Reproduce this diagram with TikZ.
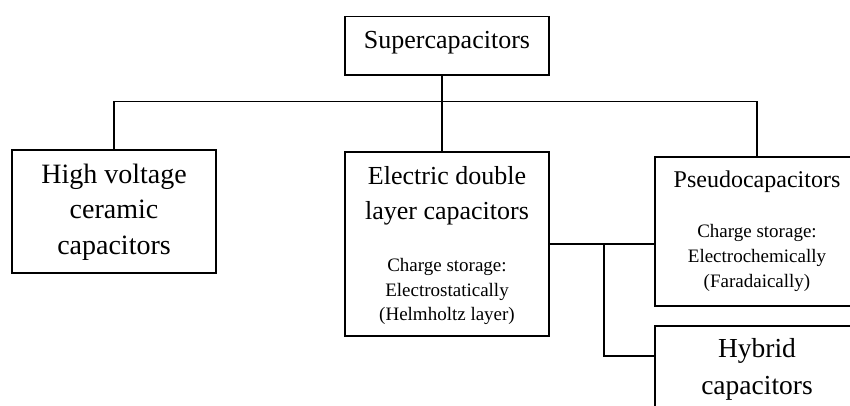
\documentclass[tikz,border=0pt]{standalone}
\usepackage{fontspec}
\setmainfont{Liberation Serif}
\begin{document}
\begin{tikzpicture}[x=1pt,y=-1pt,
  box/.style={draw,line width=1.5pt,inner sep=0pt,minimum width=204pt},
  conn/.style={line width=1.5pt},
  ttl/.style={font=\fontsize{24}{28}\selectfont,align=center,inner sep=0pt},
  bigtxt/.style={font=\fontsize{27.5}{37}\selectfont,align=center,inner sep=0pt},
  midtxt/.style={font=\fontsize{26}{34.6}\selectfont,align=center,inner sep=0pt},
  smalltxt/.style={font=\fontsize{19}{24.8}\selectfont,align=center,inner sep=0pt}]
\useasboundingbox (0,0) rectangle (850,406);
\clip (0,0) rectangle (850,406);
% boxes
\node[box,minimum height=58.5pt] (super) at (447,46) {};
\node[box,minimum height=123pt] (hv) at (114,211.5) {};
\node[box,minimum height=184pt] (edlc) at (447,244) {};
\node[box,minimum height=149pt] (pseudo) at (757,231.5) {};
\node[box,minimum height=150pt] (hybrid) at (757,401) {};
% texts
\node[ttl,font=\fontsize{26}{30}\selectfont] (tsuper) at (447,42.5) {Supercapacitors};
\node[bigtxt,font=\fontsize{28}{35.5}\selectfont] (thv) at (114,212) {High voltage\\ceramic\\capacitors};
\node[midtxt] (tedlc) at (447,195.5) {Electric double\\layer capacitors};
\node[smalltxt] (sedlc) at (447,291.5) {Charge storage:\\Electrostatically\\(Helmholtz layer)};
\node[ttl] (tpseudo) at (757,181.7) {Pseudocapacitors};
\node[smalltxt] (spseudo) at (757,258) {Charge storage:\\Electrochemically\\(Faradaically)};
\node[bigtxt] (thybrid) at (757,369.5) {Hybrid\\capacitors};
% connectors
\coordinate (bus) at (442,101.7);
\coordinate (j) at (604,0);
\draw[conn] ([xshift=-5pt]super.south) -- ([xshift=-5pt]edlc.north);
\draw[conn] (hv.north) |- (bus) -| (pseudo.north);
\draw[conn] (edlc.east) -- (edlc.east -| pseudo.west);
\draw[conn] (j |- edlc.east) |- ([yshift=-30.7pt]hybrid.north west);
\end{tikzpicture}
\end{document}
